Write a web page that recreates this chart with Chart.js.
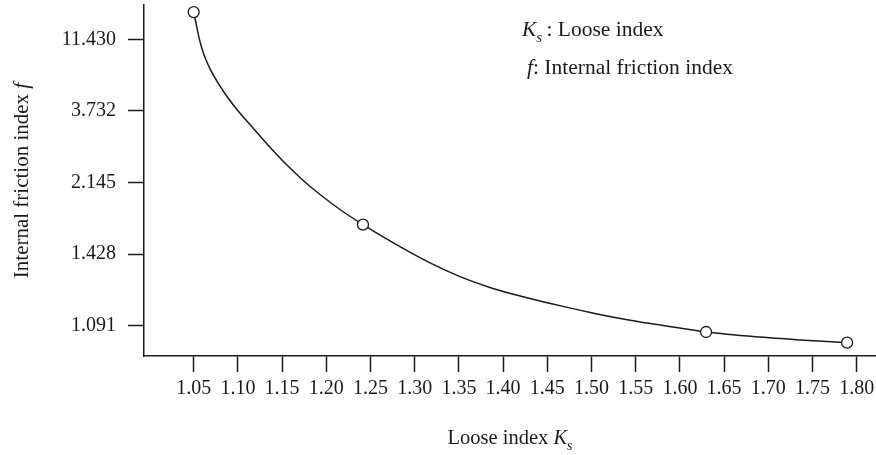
<!DOCTYPE html>
<html>
<head>
<meta charset="utf-8">
<script src="https://cdn.jsdelivr.net/npm/chart.js@4/dist/chart.umd.min.js"></script>
<style>
  body { margin: 0; background: #fff; }
  #wrap { width: 876px; height: 455px; }
</style>
</head>
<body>
<div id="wrap"><canvas id="chart"></canvas></div>
<script>
// x axis ticks (loose index Ks)
const xTickValues = [1.05, 1.10, 1.15, 1.20, 1.25, 1.30, 1.35, 1.40, 1.45, 1.50, 1.55, 1.60, 1.65, 1.70, 1.75, 1.80];
// y axis tick labels, evenly spaced at positions 0..4
const yTickLabels = ['1.091', '1.428', '2.145', '3.732', '11.430'];

// fitted curve (y = position on the f axis)
const curveKs = [1.050, 1.0526, 1.0549, 1.0571, 1.0605, 1.0639, 1.0684, 1.0775, 1.0865, 1.1001, 1.1171, 1.1363,
  1.1555, 1.1736, 1.1929, 1.2155, 1.2415, 1.2754, 1.3139, 1.3512, 1.3886, 1.4304, 1.4678, 1.5062, 1.5436,
  1.5809, 1.6296, 1.6906, 1.7359, 1.7891];
const curveF = [4.380, 4.226, 4.087, 3.969, 3.827, 3.714, 3.591, 3.390, 3.222, 3.001, 2.761, 2.493,
  2.244, 2.032, 1.832, 1.623, 1.411, 1.159, 0.898, 0.686, 0.520, 0.380, 0.270, 0.165, 0.077,
  0.003, -0.088, -0.159, -0.198, -0.237];

// measured points
const pointKs = [1.05, 1.2415, 1.6296, 1.7891];
const pointF = [4.380, 1.411, -0.088, -0.237];

const FONT = "'Liberation Serif', 'DejaVu Serif', serif";
const INK = '#1a1a1a';

// draws text made of plain / italic / subscript pieces
function drawRich(ctx, x, y, parts, size, align) {
  const fontOf = p => (p.i ? 'italic ' : '') + (p.sub ? Math.round(size * 0.7) : size) + 'px ' + FONT;
  let total = 0;
  parts.forEach(p => { ctx.font = fontOf(p); total += ctx.measureText(p.t).width; });
  let cx = align === 'center' ? x - total / 2 : x;
  parts.forEach(p => {
    ctx.font = fontOf(p);
    ctx.fillText(p.t, cx, p.sub ? y + size * 0.28 : y);
    cx += ctx.measureText(p.t).width;
  });
}

const labelsPlugin = {
  id: 'labels',
  afterDraw(chart) {
    const ctx = chart.ctx;
    const area = chart.chartArea;
    ctx.save();
    ctx.fillStyle = INK;
    ctx.textBaseline = 'alphabetic';
    ctx.textAlign = 'left';

    // key text, top right
    drawRich(ctx, 522, 36, [{ t: 'K', i: true }, { t: 's', i: true, sub: true }, { t: '\u2009: Loose index' }], 21.5);
    drawRich(ctx, 527, 74, [{ t: 'f', i: true }, { t: ': Internal friction index' }], 21.5);

    // x axis title
    drawRich(ctx, (area.left + area.right) / 2, 444,
      [{ t: 'Loose index ' }, { t: 'K', i: true }, { t: 's', i: true, sub: true }], 20.5, 'center');

    // y axis title
    ctx.translate(28, (area.top + area.bottom) / 2);
    ctx.rotate(-Math.PI / 2);
    drawRich(ctx, 0, 0, [{ t: 'Internal friction index ' }, { t: 'f', i: true }], 21, 'center');
    ctx.restore();
  }
};

new Chart(document.getElementById('chart'), {
  type: 'scatter',
  data: {
    datasets: [
      {
        data: pointKs.map((k, i) => ({ x: k, y: pointF[i] })),
        pointRadius: 5.5,
        pointBackgroundColor: '#fff',
        pointBorderColor: INK,
        pointBorderWidth: 1.3,
        showLine: false,
        clip: false
      },
      {
        data: curveKs.map((k, i) => ({ x: k, y: curveF[i] })),
        showLine: true,
        pointRadius: 0,
        borderColor: INK,
        borderWidth: 1.5,
        cubicInterpolationMode: 'monotone',
        clip: false
      }
    ]
  },
  options: {
    responsive: true,
    maintainAspectRatio: false,
    animation: false,
    layout: { autoPadding: false, padding: { top: 5, right: 0, left: 0, bottom: 0 } },
    plugins: {
      legend: { display: false },
      tooltip: { enabled: false }
    },
    scales: {
      x: {
        type: 'linear',
        min: 0.9938,
        max: 1.8218,
        afterBuildTicks: s => { s.ticks = xTickValues.map(v => ({ value: v })); },
        afterFit: s => { s.height = 99; s.paddingLeft = 0; s.paddingRight = 0; },
        ticks: {
          callback: v => v.toFixed(2),
          color: INK,
          font: { family: FONT, size: 20 },
          padding: 5,
          maxRotation: 0,
          autoSkip: false
        },
        grid: { drawOnChartArea: false, tickLength: 16, tickColor: INK, tickWidth: 1.5 },
        border: { color: INK, width: 1.5 }
      },
      y: {
        type: 'linear',
        min: -0.423,
        max: 4.479,
        afterBuildTicks: s => { s.ticks = yTickLabels.map((l, i) => ({ value: i })); },
        afterFit: s => { s.width = 144; s.paddingTop = 0; s.paddingBottom = 0; },
        ticks: {
          callback: v => yTickLabels[v],
          color: INK,
          font: { family: FONT, size: 20 },
          padding: 12,
          autoSkip: false
        },
        grid: { drawOnChartArea: false, tickLength: 16, tickColor: INK, tickWidth: 1.5 },
        border: { color: INK, width: 1.5 }
      }
    }
  },
  plugins: [labelsPlugin]
});
</script>
</body>
</html>
